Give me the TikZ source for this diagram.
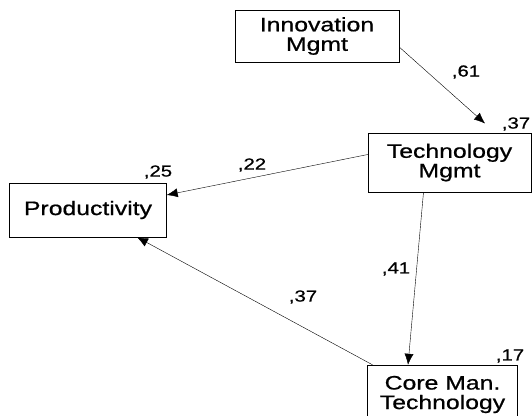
\documentclass[tikz,border=0pt]{standalone}
\usepackage{fontspec}
\setmainfont{Liberation Sans}[FakeStretch=1.27, FakeBold=0.8]
\usetikzlibrary{arrows.meta}
\tikzset{>={Latex[length=11pt,width=9pt]}}
\tikzset{
  var/.style={draw, thin, align=center, inner sep=0pt,
    font=\fontsize{19.5}{19.5}\selectfont},
  coef/.style={inner sep=0pt, font=\fontsize{16}{16}\selectfont},
  path/.style={->, thin}
}

\begin{document}
\begin{tikzpicture}[x=1pt, y=-1pt]
  \clip (0,0) rectangle (532,415);
  \useasboundingbox (0,0) rectangle (532,415);

  % Variables
  \node[var, minimum width=164pt, minimum height=52pt] (innov) at (317,36) {Innovation\\Mgmt};
  \node[var, minimum width=163pt, minimum height=59pt] (tech)  at (449.5,162.5) {Technology\\Mgmt};
  \node[var, minimum width=157pt, minimum height=54pt] (prod)  at (88,210) {Productivity};
  \node[var, minimum width=150pt, minimum height=59pt] (core)  at (442.5,394.5) {Core Man.\\Technology};

  % Squared multiple correlations
  \node[coef] (r2tech) at (516,124) {,37};
  \node[coef] (r2prod) at (158,172) {,25};
  \node[coef] (r2core) at (510,356) {,17};

  % Paths
  \draw[path, shorten >=14pt] ([yshift=-11pt]innov.east) -- ([xshift=46pt]tech.north);
  \draw[path] ([yshift=8pt]tech.west) -- ([yshift=15pt]prod.east);
  \draw[path] ([xshift=-26pt]tech.south) -- ([xshift=-34.5pt]core.north);
  \draw[path] ([xshift=-70pt]core.north) -- ([xshift=49pt]prod.south);

  % Path coefficients
  \node[coef] (pinnov) at (466,72)  {,61};
  \node[coef] (ptech)  at (252,165) {,22};
  \node[coef] (pcore)  at (396,269) {,41};
  \node[coef] (pprod)  at (303,297) {,37};
\end{tikzpicture}
\end{document}
